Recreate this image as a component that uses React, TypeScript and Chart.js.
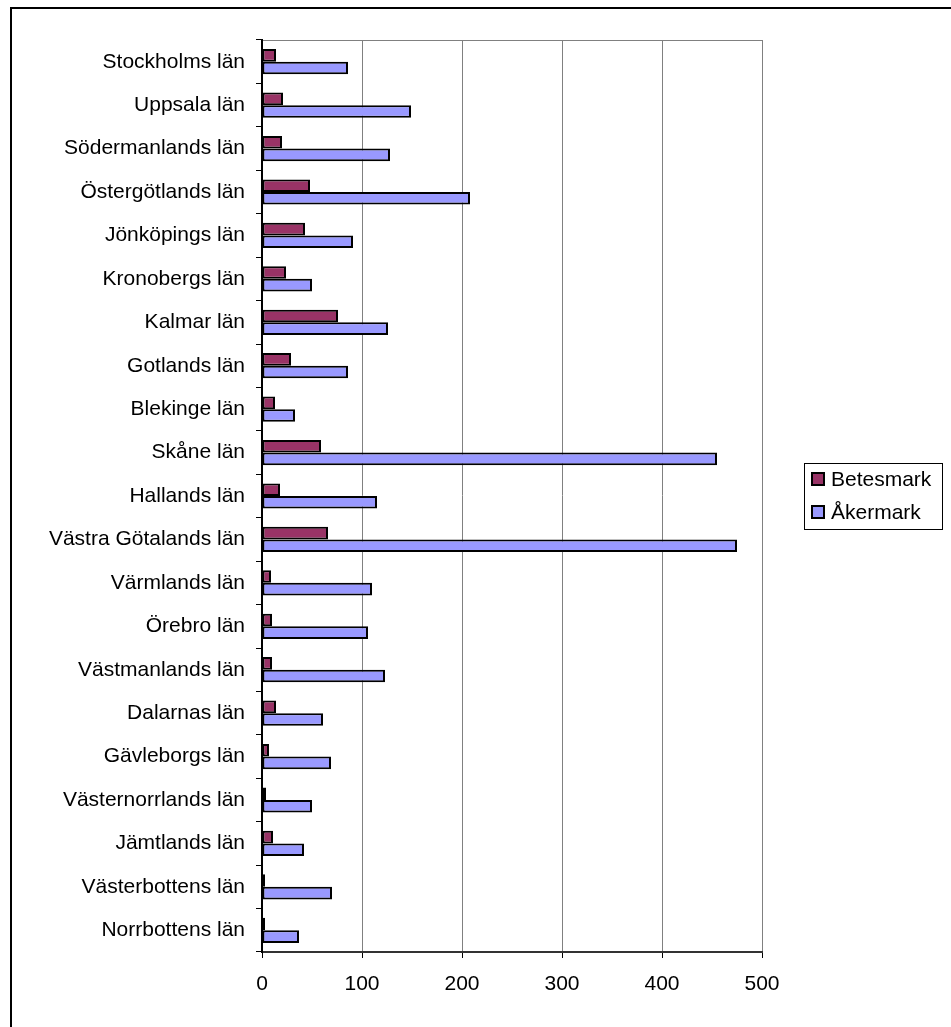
import { useEffect, useRef } from "react";
import { Chart, registerables } from "chart.js";

Chart.register(...registerables);

const categories = [
  "Stockholms län",
  "Uppsala län",
  "Södermanlands län",
  "Östergötlands län",
  "Jönköpings län",
  "Kronobergs län",
  "Kalmar län",
  "Gotlands län",
  "Blekinge län",
  "Skåne län",
  "Hallands län",
  "Västra Götalands län",
  "Värmlands län",
  "Örebro län",
  "Västmanlands län",
  "Dalarnas län",
  "Gävleborgs län",
  "Västernorrlands län",
  "Jämtlands län",
  "Västerbottens län",
  "Norrbottens län",
];

const betesmark = [14, 21, 20, 48, 43, 24, 76, 29, 13, 59, 18, 66, 9, 10, 10, 14, 7, 4, 11, 3, 3];
const akermark = [86, 149, 128, 208, 91, 50, 126, 86, 33, 455, 115, 475, 110, 106, 123, 61, 69, 50, 42, 70, 37];

const seriesNames = ["Betesmark", "Åkermark"];
const seriesColors = ["#993366", "#9999FF"];

const xMin = 0;
const xMax = 500;
const xStep = 100;

const FONT_FAMILY = "'Liberation Sans', Arial, sans-serif";
const FONT_SIZE = 21;

export default function App() {
  const ref = useRef<HTMLCanvasElement | null>(null);

  useEffect(() => {
    document.documentElement.style.margin = "0";
    document.body.style.margin = "0";
    document.body.style.overflow = "hidden";
    const canvas = ref.current;
    if (!canvas) return;

    const framePlugin = {
      id: "frame",
      beforeDraw(chart: any) {
        const { ctx, chartArea: ca } = chart;
        ctx.save();
        ctx.fillStyle = "#fff";
        ctx.fillRect(0, 0, chart.width, chart.height);
        ctx.strokeStyle = "#000";
        ctx.lineWidth = 2;
        ctx.beginPath();
        ctx.moveTo(11, chart.height + 2);
        ctx.lineTo(11, 8);
        ctx.lineTo(chart.width + 2, 8);
        ctx.stroke();
        // plot area top border
        ctx.strokeStyle = "#808080";
        ctx.lineWidth = 1;
        ctx.beginPath();
        ctx.moveTo(ca.left, ca.top + 0.5);
        ctx.lineTo(ca.right + 0.5, ca.top + 0.5);
        ctx.lineTo(ca.right + 0.5, ca.bottom);
        ctx.stroke();
        ctx.restore();
      },
    };

    const legendPlugin = {
      id: "boxLegend",
      afterDraw(chart: any) {
        const { ctx, chartArea: ca } = chart;
        const cy = (ca.top + ca.bottom) / 2;
        const w = 138;
        const h = 66;
        const x0 = Math.round(ca.right + 42);
        const y0 = Math.round(cy - h / 2);
        ctx.save();
        ctx.strokeStyle = "#000";
        ctx.lineWidth = 1;
        ctx.strokeRect(x0 + 0.5, y0 + 0.5, w, h);
        ctx.font = `${FONT_SIZE}px ${FONT_FAMILY}`;
        ctx.textBaseline = "middle";
        ctx.textAlign = "left";
        seriesNames.forEach((name, i) => {
          const yc = y0 + 16 + i * 33;
          ctx.fillStyle = seriesColors[i];
          ctx.fillRect(x0 + 8, yc - 6, 12, 12);
          ctx.strokeStyle = "#000";
          ctx.lineWidth = 2;
          ctx.strokeRect(x0 + 8, yc - 6, 12, 12);
          ctx.fillStyle = "#000";
          ctx.fillText(name, x0 + 27, yc + 1);
        });
        ctx.restore();
      },
    };

    const font = { family: FONT_FAMILY, size: FONT_SIZE };

    const chart = new Chart(canvas, {
      type: "bar",
      data: {
        labels: categories,
        datasets: [
          {
            label: seriesNames[0],
            data: betesmark,
            backgroundColor: seriesColors[0],
            borderColor: "#000",
            borderWidth: 2,
            borderSkipped: false,
          },
          {
            label: seriesNames[1],
            data: akermark,
            backgroundColor: seriesColors[1],
            borderColor: "#000",
            borderWidth: 2,
            borderSkipped: false,
          },
        ],
      },
      options: {
        indexAxis: "y",
        animation: false,
        responsive: false,
        devicePixelRatio: 1,
        layout: { padding: { top: 40, right: 189, bottom: 0, left: 0 } },
        datasets: { bar: { categoryPercentage: 0.58, barPercentage: 1 } } as any,
        plugins: {
          legend: { display: false },
          tooltip: { enabled: false },
        },
        scales: {
          x: {
            min: xMin,
            max: xMax,
            ticks: { stepSize: xStep, padding: 14, color: "#000", font },
            grid: { color: "#808080", lineWidth: 1, tickLength: 6, tickColor: "#000" },
            border: { color: "#333", width: 2 },
            afterFit: (s: any) => {
              s.height = 75;
            },
          },
          y: {
            ticks: { padding: 11, color: "#000", font, autoSkip: false },
            grid: { drawOnChartArea: false, tickLength: 6, color: "#000", offset: true },
            border: { color: "#000", width: 2 },
            afterFit: (s: any) => {
              s.width = 262;
            },
          },
        },
      } as any,
      plugins: [framePlugin, legendPlugin],
    });

    return () => chart.destroy();
  }, []);

  return (
    <div style={{ width: 951, height: 1027, overflow: "hidden" }}>
      <canvas ref={ref} width={951} height={1027} style={{ display: "block" }} />
    </div>
  );
}
